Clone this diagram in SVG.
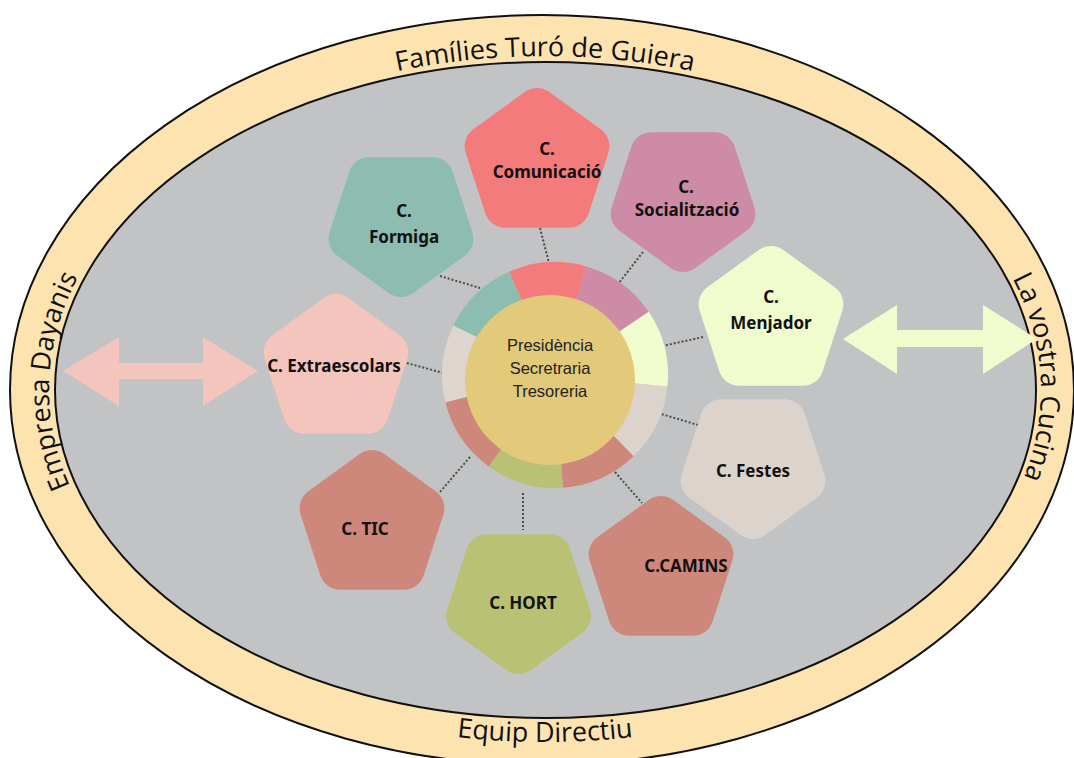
<svg xmlns="http://www.w3.org/2000/svg" xmlns:xlink="http://www.w3.org/1999/xlink" width="1074" height="758" viewBox="0 0 1074 758">
<style>
.band{fill:#FDE3B0;stroke:#111;stroke-width:2}
.inner{fill:#C2C3C4;stroke:#111;stroke-width:2}
.ot{font-family:"Open Sans","Noto Sans",sans-serif;font-size:27px;fill:#111}
.pent{stroke-width:42;stroke-linejoin:round}
.lbl{font-family:"Noto Sans","Open Sans",sans-serif;font-size:17px;font-weight:700;fill:#111;text-anchor:middle}
.ctr{font-family:"Liberation Sans",Arial,sans-serif;font-size:16.5px;fill:#222;text-anchor:middle}
.con{stroke:#4a4a4a;stroke-width:2;stroke-dasharray:2 2;fill:none}
</style>
<defs>
<polygon id="pu" points="0,-54 51.36,-16.69 31.74,43.69 -31.74,43.69 -51.36,-16.69"/>
<polygon id="pd" points="0,54 51.36,16.69 31.74,-43.69 -31.74,-43.69 -51.36,16.69"/>
<path id="topPath" d="M 49 390 A 496 334 0 0 1 1041 390"/>
<path id="leftPath" d="M 545 724 A 496 334 0 0 1 545 56"/>
<path id="rightPath" d="M 545 56 A 496 334 0 0 1 545 724"/>
<path id="bottomPath" d="M 25 390 A 520 352 0 0 0 1065 390"/>
</defs>
<rect width="1074" height="758" fill="#ffffff"/>
<g id="families">
<ellipse class="band" cx="542" cy="390" rx="532" ry="375"/>
<ellipse class="inner" cx="545.5" cy="390" rx="490.5" ry="328"/>
<text class="ot"><textPath xlink:href="#topPath" href="#topPath" startOffset="50%" text-anchor="middle">Famílies Turó de Guiera</textPath></text>
<text class="ot"><textPath xlink:href="#leftPath" href="#leftPath" startOffset="50.7%" text-anchor="middle">Empresa Dayanis</textPath></text>
<text class="ot"><textPath xlink:href="#rightPath" href="#rightPath" startOffset="49%" text-anchor="middle">La vostra Cucina</textPath></text>
<text class="ot"><textPath xlink:href="#bottomPath" href="#bottomPath" startOffset="50%" text-anchor="middle">Equip Directiu</textPath></text>
</g>
<g id="arrows">
<polygon fill="#F3C5BC" points="63,371 119,337 119,363 203,363 203,337 258,371 203,406 203,379 119,379 119,406"/>
<polygon fill="#F1FCCE" points="843,339 897,305 897,330 983,330 983,305 1037,339 983,374 983,347 897,347 897,374"/>
</g>
<g id="connectors">
<line class="con" x1="540" y1="228" x2="549" y2="263"/>
<line class="con" x1="643" y1="252" x2="615" y2="288"/>
<line class="con" x1="703" y1="337" x2="658" y2="347"/>
<line class="con" x1="658" y1="413" x2="698" y2="425"/>
<line class="con" x1="615" y1="472" x2="642" y2="503"/>
<line class="con" x1="523" y1="493" x2="523" y2="530"/>
<line class="con" x1="470" y1="457" x2="440" y2="492"/>
<line class="con" x1="403" y1="362" x2="447" y2="374"/>
<line class="con" x1="440" y1="276" x2="480" y2="288"/>
</g>
<g id="center">
<path fill="#F47B7B" d="M555 375 L509.0 271.8 A113 113 0 0 1 586.1 266.4 Z"/>
<path fill="#CD8BA6" d="M555 375 L586.1 266.4 A113 113 0 0 1 648.7 311.8 Z"/>
<path fill="#F1FCCE" d="M555 375 L648.7 311.8 A113 113 0 0 1 667.4 386.8 Z"/>
<path fill="#DCD4CC" d="M555 375 L667.4 386.8 A113 113 0 0 1 633.5 456.3 Z"/>
<path fill="#CE887B" d="M555 375 L633.5 456.3 A113 113 0 0 1 562.9 487.7 Z"/>
<path fill="#B9C174" d="M555 375 L562.9 487.7 A113 113 0 0 1 488.6 466.4 Z"/>
<path fill="#CE887B" d="M555 375 L488.6 466.4 A113 113 0 0 1 445.4 402.3 Z"/>
<path fill="#DED6CE" d="M555 375 L445.4 402.3 A113 113 0 0 1 453.4 325.5 Z"/>
<path fill="#8DBCB0" d="M555 375 L453.4 325.5 A113 113 0 0 1 509.0 271.8 Z"/>
<circle cx="550" cy="380" r="85" fill="#E3C97A"/>
<text class="ctr" x="550" y="351">Presidència</text>
<text class="ctr" x="550" y="374">Secretraria</text>
<text class="ctr" x="550" y="397">Tresoreria</text>
</g>
<g id="comunicacio">
<use href="#pu" xlink:href="#pu" class="pent" fill="#F47B7B" stroke="#F47B7B" transform="translate(537 163)"/>
<text class="lbl" x="547" y="155">C.</text>
<text class="lbl" x="547" y="178">Comunicació</text>
</g>
<g id="socialitzacio">
<use href="#pd" xlink:href="#pd" class="pent" fill="#CD8BA6" stroke="#CD8BA6" transform="translate(683 197)"/>
<text class="lbl" x="686" y="193">C.</text>
<text class="lbl" x="687" y="216">Socialització</text>
</g>
<g id="menjador">
<use href="#pu" xlink:href="#pu" class="pent" fill="#F1FCCE" stroke="#F1FCCE" transform="translate(771 321)"/>
<text class="lbl" x="771" y="303">C.</text>
<text class="lbl" x="771" y="329">Menjador</text>
</g>
<g id="festes">
<use href="#pd" xlink:href="#pd" class="pent" fill="#DCD4CC" stroke="#DCD4CC" transform="translate(753 464)"/>
<text class="lbl" x="753" y="477">C. Festes</text>
</g>
<g id="camins">
<use href="#pu" xlink:href="#pu" class="pent" fill="#CE887B" stroke="#CE887B" transform="translate(661 571)"/>
<text class="lbl" x="686" y="572">C.CAMINS</text>
</g>
<g id="hort">
<use href="#pd" xlink:href="#pd" class="pent" fill="#B9C174" stroke="#B9C174" transform="translate(518.5 599)"/>
<text class="lbl" x="523" y="609">C. HORT</text>
</g>
<g id="tic">
<use href="#pu" xlink:href="#pu" class="pent" fill="#CE887B" stroke="#CE887B" transform="translate(372 525)"/>
<text class="lbl" x="365" y="535">C. TIC</text>
</g>
<g id="extraescolars">
<use href="#pu" xlink:href="#pu" class="pent" fill="#F3C5BC" stroke="#F3C5BC" transform="translate(336 369)"/>
<text class="lbl" x="334" y="372">C. Extraescolars</text>
</g>
<g id="formiga">
<use href="#pd" xlink:href="#pd" class="pent" fill="#8DBCB0" stroke="#8DBCB0" transform="translate(401 222)"/>
<text class="lbl" x="404" y="217">C.</text>
<text class="lbl" x="404" y="243">Formiga</text>
</g>
</svg>
